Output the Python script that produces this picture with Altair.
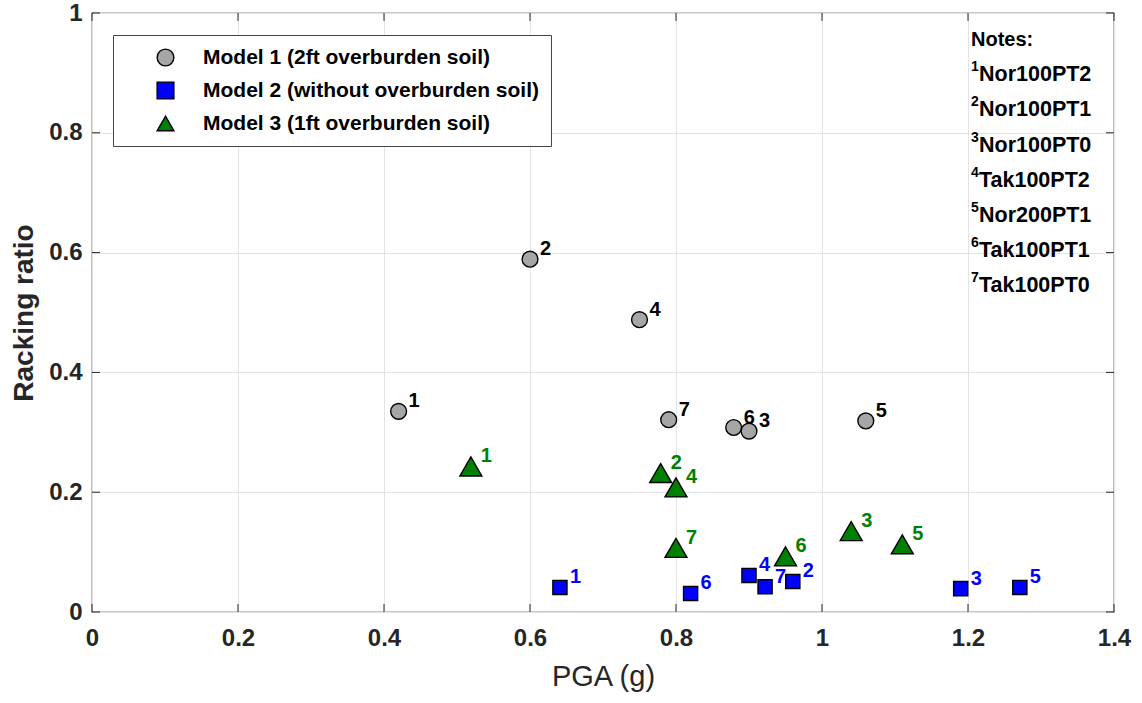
import altair as alt
import pandas as pd

# Racking ratio vs. peak ground acceleration for three centrifuge models
models = [
    "Model 1 (2ft overburden soil)",
    "Model 2 (without overburden soil)",
    "Model 3 (1ft overburden soil)",
]

m1_ids = ["1", "2", "4", "7", "6", "3", "5"]
m1_pga = [0.42, 0.60, 0.75, 0.79, 0.879, 0.90, 1.06]
m1_rr = [0.335, 0.589, 0.488, 0.321, 0.308, 0.302, 0.319]

m2_ids = ["1", "6", "4", "7", "2", "3", "5"]
m2_pga = [0.641, 0.82, 0.90, 0.922, 0.96, 1.19, 1.271]
m2_rr = [0.041, 0.031, 0.061, 0.042, 0.051, 0.039, 0.041]

m3_ids = ["1", "2", "4", "7", "6", "3", "5"]
m3_pga = [0.519, 0.779, 0.80, 0.80, 0.95, 1.04, 1.11]
m3_rr = [0.243, 0.232, 0.208, 0.107, 0.093, 0.135, 0.113]

note_ids = ["1", "2", "3", "4", "5", "6", "7"]
note_names = ["Nor100PT2", "Nor100PT1", "Nor100PT0", "Tak100PT2",
              "Nor200PT1", "Tak100PT1", "Tak100PT0"]

x_ticks = [0, 0.2, 0.4, 0.6, 0.8, 1.0, 1.2, 1.4]
y_ticks = [0, 0.2, 0.4, 0.6, 0.8, 1.0]

fills = ["#a6a6a6", "#0000ff", "#008000"]
label_colors = ["#000000", "#0000ff", "#008000"]
shapes = ["circle", "square", "triangle-up"]

rows = []
for model, ids, xs, ys in [(models[0], m1_ids, m1_pga, m1_rr),
                           (models[1], m2_ids, m2_pga, m2_rr),
                           (models[2], m3_ids, m3_pga, m3_rr)]:
    for i, xv, yv in zip(ids, xs, ys):
        rows.append({"model": model, "id": i, "pga": xv, "rr": yv})
df = pd.DataFrame(rows)

FONT = "Liberation Sans"
W, H = 1022, 599
INK = "#262626"

xs = alt.Scale(domain=[0, 1.4], nice=False)
ys = alt.Scale(domain=[0, 1], nice=False)

base = alt.Chart(df)

marker_size = (
    alt.when(alt.datum.model == models[2]).then(alt.value(480))
    .when(alt.datum.model == models[1]).then(alt.value(200))
    .otherwise(alt.value(250))
)

points = base.mark_point(filled=True, stroke="black", strokeWidth=1.4, opacity=1).encode(
    x=alt.X("pga:Q", scale=xs,
            axis=alt.Axis(values=x_ticks, format="~g", title="PGA (g)", grid=True,
                          gridColor="#e3e3e3", tickSize=0, labelPadding=14, labelFontSize=24,
                          labelFontWeight="bold", labelColor=INK, titleFontSize=29,
                          titleFontWeight="normal", titleColor=INK, titlePadding=12,
                          domain=False, labelFont=FONT, titleFont=FONT, labelFlush=False)),
    y=alt.Y("rr:Q", scale=ys,
            axis=alt.Axis(values=y_ticks, format="~g", title="Racking ratio", grid=True,
                          gridColor="#e3e3e3", tickSize=0, labelPadding=10, labelFontSize=24,
                          labelFontWeight="bold", labelColor=INK, titleFontSize=28,
                          titleFontWeight="bold", titleColor=INK, titlePadding=10,
                          domain=False, labelFont=FONT, titleFont=FONT, labelFlush=False)),
    fill=alt.Fill("model:N", scale=alt.Scale(domain=models, range=fills), title=None,
                  legend=alt.Legend(orient="none", legendX=21, legendY=22,
                                    fillColor="white", strokeColor="#444444",
                                    padding=12, symbolOffset=30, labelOffset=27,
                                    rowPadding=10, labelFontSize=21, labelFontWeight="bold",
                                    labelFont=FONT, labelColor="black", symbolSize=280,
                                    symbolStrokeColor="black", symbolStrokeWidth=1.4,
                                    labelLimit=600)),
    shape=alt.Shape("model:N", scale=alt.Scale(domain=models, range=shapes), title=None),
    size=marker_size,
)

labels = base.mark_text(align="left", baseline="middle", dx=10, dy=-10,
                        fontSize=20, fontWeight="bold", font=FONT).encode(
    x=alt.X("pga:Q", scale=xs),
    y=alt.Y("rr:Q", scale=ys),
    text="id:N",
    color=alt.Color("model:N", scale=alt.Scale(domain=models, range=label_colors), legend=None),
)

# Inward tick marks on all four sides of the frame
xt = pd.DataFrame({"v": x_ticks})
yt = pd.DataFrame({"v": y_ticks})
tick_style = dict(color=INK, strokeWidth=1)
xt_bottom = alt.Chart(xt).mark_rule(**tick_style).encode(
    x=alt.X("v:Q", scale=xs), y=alt.value(H), y2=alt.value(H - 8))
xt_top = alt.Chart(xt).mark_rule(**tick_style).encode(
    x=alt.X("v:Q", scale=xs), y=alt.value(0), y2=alt.value(8))
yt_left = alt.Chart(yt).mark_rule(**tick_style).encode(
    y=alt.Y("v:Q", scale=ys), x=alt.value(0), x2=alt.value(8))
yt_right = alt.Chart(yt).mark_rule(**tick_style).encode(
    y=alt.Y("v:Q", scale=ys), x=alt.value(W), x2=alt.value(W - 8))

# Notes listing the ground-motion names
notes_df = pd.DataFrame({"id": note_ids, "name": note_names, "k": list(range(1, 8))})
notes_title = alt.Chart(pd.DataFrame({"t": ["Notes:"]})).mark_text(
    align="left", baseline="middle", fontSize=20, fontWeight="bold", font=FONT, color="black"
).encode(x=alt.value(879), y=alt.value(27), text="t:N")
notes_sup = alt.Chart(notes_df).transform_calculate(py="27 + 35.2 * datum.k").mark_text(
    align="left", baseline="middle", fontSize=14, fontWeight="bold", font=FONT, color="black",
    dy=-8
).encode(x=alt.value(879), y=alt.Y("py:Q", scale=None), text="id:N")
notes_txt = alt.Chart(notes_df).transform_calculate(py="27 + 35.2 * datum.k").mark_text(
    align="left", baseline="middle", fontSize=21.5, fontWeight="bold", font=FONT, color="black"
).encode(x=alt.value(887), y=alt.Y("py:Q", scale=None), text="name:N")

chart = alt.layer(
    points, labels, xt_bottom, xt_top, yt_left, yt_right, notes_title, notes_sup, notes_txt
).resolve_scale(color="independent").properties(
    width=W, height=H,
    padding={"left": 92, "top": 13, "right": 28, "bottom": 91},
    autosize=alt.AutoSizeParams(type="none"),
    background="white",
).configure_view(stroke=INK, strokeWidth=1.2)

chart.save("out.html", embed_options={"renderer": "svg", "actions": False})
